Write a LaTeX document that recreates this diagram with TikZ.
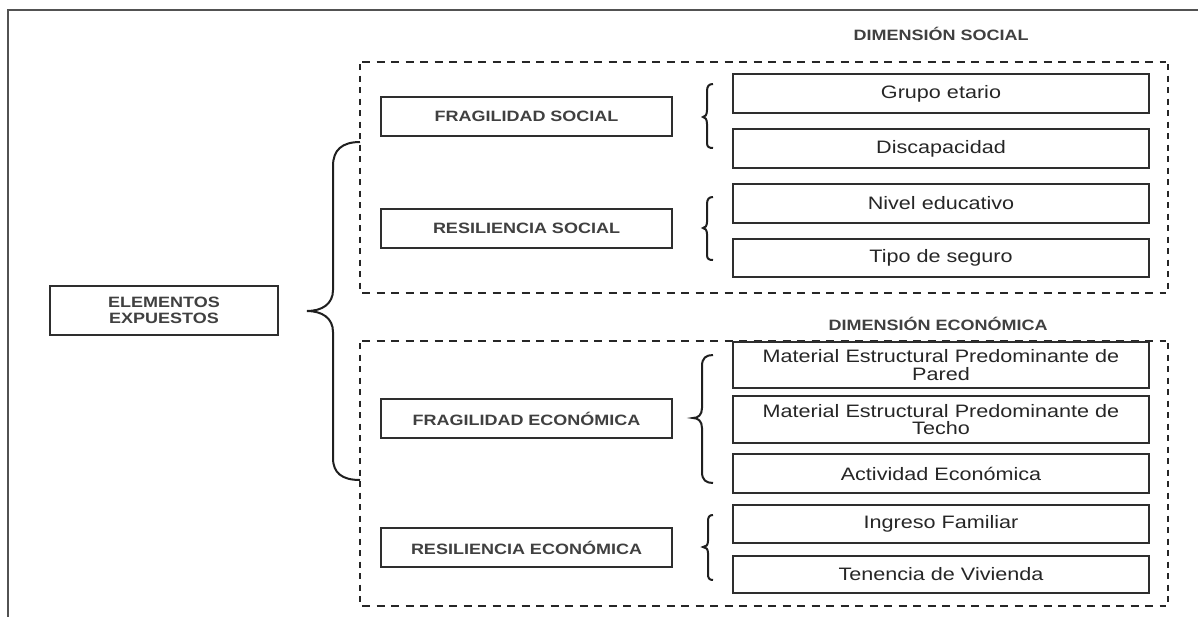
\documentclass[tikz,border=0pt]{standalone}
\usepackage{fontspec}
\setmainfont{Liberation Sans}[FakeStretch=1.2]
\begin{document}
\begin{tikzpicture}[x=1pt,y=-1pt,
  box/.style={draw=black!82, line width=2.1pt, inner sep=0pt, text=black!85,
              font=\fontsize{18}{17.5}\selectfont, align=center, minimum width=416pt},
  hbox/.style={draw=black!82, line width=2.1pt, inner sep=0pt, text=black!75,
              font=\bfseries\fontsize{15}{17}\selectfont, align=center,
              minimum width=291pt, minimum height=39pt},
  title/.style={text=black!75, font=\bfseries\fontsize{15}{17}\selectfont, inner sep=0pt},
  hdash/.style={draw=black!85, line width=2.2pt, dash pattern=on 8pt off 6.5pt},
  vdash/.style={draw=black!85, line width=2.2pt, dash pattern=on 6pt off 5.5pt},
  brace/.style={draw=black!88, line width=2pt},
  frame/.style={draw=black!68, line width=2.3pt}]
\useasboundingbox (0,0) rectangle (1198,616);
% outer frame
\draw[frame] (8,620) -- (8,10) -- (1200,10);
% dashed groups
\draw[hdash] (362,62) -- (1166,62);
\draw[hdash] (362,293) -- (1166,293);
\draw[vdash] (360,64) -- (360,291);
\draw[vdash] (1168,64) -- (1168,291);
\draw[hdash] (362,341) -- (1166,341);
\draw[hdash] (362,606) -- (1166,606);
\draw[vdash] (360,343) -- (360,604);
\draw[vdash] (1168,343) -- (1168,604);
% titles
\node[title] (dsoc) at (941,34) {DIMENSIÓN SOCIAL};
\node[title] (deco) at (938,324) {DIMENSIÓN ECONÓMICA};
% main node
\node[hbox, minimum width=228pt, minimum height=49pt] (ee) at (164,310.5) {ELEMENTOS\\[-1pt]EXPUESTOS};
% left category nodes
\node[hbox] (fs) at (526.5,116.5) {FRAGILIDAD SOCIAL};
\node[hbox] (rs) at (526.5,228.5) {RESILIENCIA SOCIAL};
\node[hbox] (fe) at (526.5,418.5) {FRAGILIDAD ECONÓMICA};
\node[hbox] (re) at (526.5,547.5) {RESILIENCIA ECONÓMICA};
% indicator nodes
\node[box, minimum height=39pt] (ge) at (941,93.5) {Grupo etario};
\node[box, minimum height=39pt] (di) at (941,148.5) {Discapacidad};
\node[box, minimum height=39pt] (ne) at (941,203.5) {Nivel educativo};
\node[box, minimum height=38pt] (ts) at (941,258) {Tipo de seguro};
\node[box, minimum height=46pt] (mp) at (941,365) {Material Estructural Predominante de\\Pared};
\node[box, minimum height=47pt] (mt) at (941,419.5) {Material Estructural Predominante de\\Techo};
\node[box, minimum height=39pt] (ae) at (941,473.5) {Actividad Económica};
\node[box, minimum height=38pt] (if) at (941,524) {Ingreso Familiar};
\node[box, minimum height=37pt] (tv) at (941,574.5) {Tenencia de Vivienda};
% big brace
\draw[brace] (360,142) .. controls (342,142) and (333,150) .. (333,166) -- (333,290)
  .. controls (333,304) and (322,311) .. (307,311)
  .. controls (322,311) and (333,318) .. (333,332) -- (333,458)
  .. controls (333,473) and (342,480) .. (360,480);
% small braces
\draw[brace] (713,84) .. controls (709,84) and (707,86) .. (707,91) -- (707,110)
  .. controls (707,115) and (705,117) .. (703,117)
  .. controls (705,117) and (707,119) .. (707,124) -- (707,143)
  .. controls (707,147) and (709,148) .. (713,148);
\draw[brace] (713,197) .. controls (709,197) and (707,199) .. (707,204) -- (707,222)
  .. controls (707,226) and (705,228) .. (703,228)
  .. controls (705,228) and (707,230) .. (707,234) -- (707,255)
  .. controls (707,259) and (709,260) .. (713,260);
\draw[brace] (713,355) .. controls (706,355) and (702,358) .. (702,366) -- (702,408)
  .. controls (702,415) and (698,418) .. (693,418)
  .. controls (698,418) and (702,421) .. (702,428) -- (702,472)
  .. controls (702,480) and (706,483) .. (713,483);
\draw[brace] (713,515) .. controls (709,515) and (708,517) .. (708,522) -- (708,541)
  .. controls (708,545) and (706,547) .. (703,547)
  .. controls (706,547) and (708,549) .. (708,553) -- (708,574)
  .. controls (708,578) and (709,580) .. (713,580);
\end{tikzpicture}
\end{document}
